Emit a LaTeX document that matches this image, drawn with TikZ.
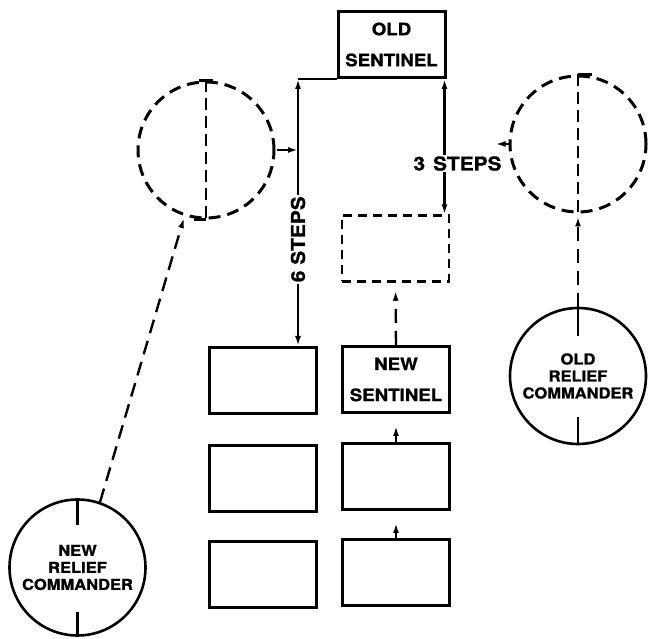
\documentclass[tikz,border=0pt]{standalone}
\usepackage{fontspec}
\setsansfont{TeX Gyre Heros}[FakeStretch=1.1, BoldFeatures={FakeBold=1.2}]
\usepackage{tikz}
\usetikzlibrary{positioning,arrows.meta}

\begin{document}
\begin{tikzpicture}[
    x=1pt, y=1pt,
    font=\sffamily\bfseries,
    post/.style={rectangle, draw, line width=3pt, minimum width=107pt, minimum height=66pt, align=center, inner sep=0pt, font=\sffamily\bfseries\fontsize{17}{31}\selectfont},
    newpost/.style={post, line width=2.4pt, dash pattern=on 9pt off 6pt},
    man/.style={circle, draw, line width=2.6pt, minimum size=136pt, align=center, inner sep=0pt, font=\sffamily\bfseries\fontsize{15}{17}\selectfont},
    newman/.style={man, dash pattern=on 12pt off 7pt, line width=3pt},
    steplab/.style={fill=white, inner sep=1.5pt, font=\sffamily\bfseries\fontsize{19}{19}\selectfont},
    arr/.style={-{Latex[length=10pt, width=6pt]}, line width=2.4pt},
    dimarr/.style={{Latex[length=10pt, width=6pt]}-{Latex[length=10pt, width=6pt]}, line width=2.4pt},
    walk/.style={arr, dash pattern=on 14pt off 8pt},
    face/.style={line width=2.6pt}
]
\useasboundingbox (0,0) rectangle (650,639);
% ============================================================
% POSTS
% ============================================================
\node[post]    (osent) at (391.5,594.5) {OLD\\SENTINEL};
\node[newpost] (dbox)  at (395.5,390.5) {};
\node[post]    (nsent) at (396,259.5)   {NEW\\SENTINEL};
\node[post, below=28pt of nsent] (rbox2) {};
\node[post, below=27pt of rbox2] (rbox3) {};

\node[post] (lbox1) at (262.5,258.5) {};
\node[post, below=29pt of lbox1] (lbox2) {};
\node[post, below=27pt of lbox2] (lbox3) {};

% ============================================================
% RELIEF COMMANDERS
% ============================================================
\node[newman] (ldc) at (206,489) {};
\node[newman] (rdc) at (578,495) {};
\node[man]    (orc) at (578,263) {OLD\\RELIEF\\COMMANDER};
\node[man]    (nrc) at (77.5,71.5) {NEW\\RELIEF\\COMMANDER};

% facing marks
\draw[face, dash pattern=on 12pt off 6pt] (ldc.north) -- (ldc.south);
\draw[face] ([xshift=-7pt]ldc.north) -- ([xshift=7pt]ldc.north);
\draw[face] (ldc.south) -- ([xshift=-12pt]ldc.south);
\draw[face, dash pattern=on 12pt off 6pt] (rdc.north) -- (rdc.south);
\draw[face] (rdc.north) -- ([xshift=14pt]rdc.north);
\draw[face] (orc.north) -- ([yshift=-29pt]orc.north);
\draw[face] (orc.south) -- ([yshift=28pt]orc.south);
\draw[face] (nrc.north) -- ([yshift=-27pt]nrc.north);
\draw[face] (nrc.south) -- ([yshift=25pt]nrc.south);

% ============================================================
% STEPS
% ============================================================
\coordinate (lcorner) at (298,560);
\coordinate (rtop) at ([xshift=-2pt]osent.south east);
\coordinate[left=13pt of rdc.west] (rtip);

\draw[line width=2.4pt] (osent.south west) -- (lcorner);
\draw[dimarr] (lcorner) -- node[steplab, rotate=90, pos=0.6] {6 STEPS} (lcorner |- lbox1.north);
\draw[dimarr] (rtop) -- node[steplab, pos=0.625, xshift=13pt] {3\hspace{8pt}STEPS} (rtop |- dbox.north);

\draw[arr, shorten <=1pt] (ldc.east) -- (ldc.east -| lcorner);
\draw[arr] (rdc.west) -- (rtip);

% ============================================================
% MOVES
% ============================================================
\draw[walk, shorten >=2pt] (nrc.71) -- (ldc.252);
\draw[walk, shorten >=3pt] (orc.north) -- (rdc.south);
\draw[walk, shorten >=8pt] (nsent.north) -- (dbox.south);
\draw[arr, shorten >=12pt] (rbox2.north) -- (nsent.south);
\draw[arr, shorten >=12pt] (rbox3.north) -- (rbox2.south);

\end{tikzpicture}
\end{document}
